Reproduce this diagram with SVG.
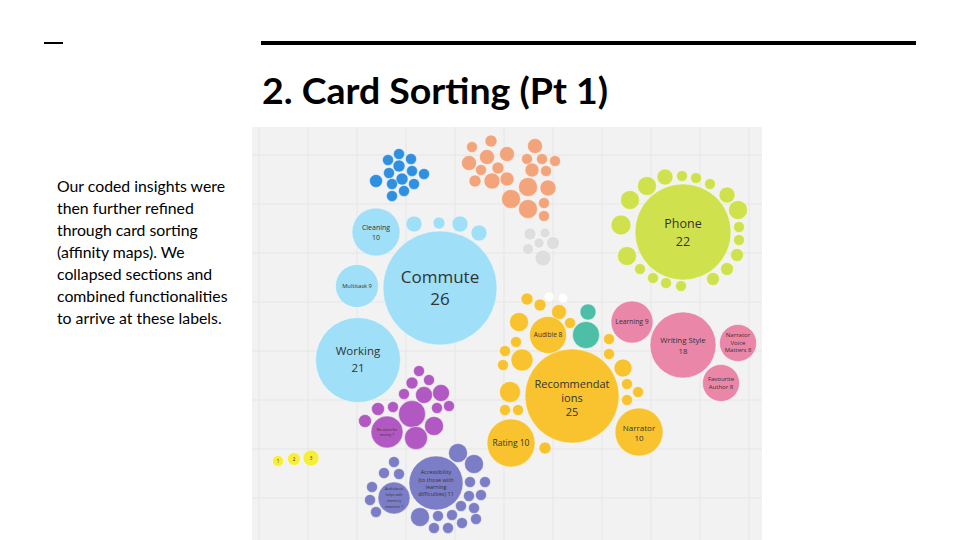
<svg xmlns="http://www.w3.org/2000/svg" width="960" height="540" viewBox="0 0 960 540">
<style>
.bg{fill:#f2f2f2}
.grid{stroke:#e6e6e6;stroke-width:1}
circle{stroke:#ffffff;stroke-opacity:0.55;stroke-width:0.8}
.lb{fill:#9fdff8}
.db{fill:#2f8fe0}
.or{fill:#f3a47b}
.gr{fill:#dedede}
.li{fill:#cfe24d}
.am{fill:#f8c32e}
.wh{fill:#ffffff;stroke:#e8e8e8}
.te{fill:#4dbfa6}
.pk{fill:#ea86a8}
.pu{fill:#b158c3}
.pw{fill:#7b7ec7}
.ye{fill:#f7ee3c}
.t{font-family:"Open Sans","Noto Sans",sans-serif;fill:#333333;text-anchor:middle}
</style>
<rect width="960" height="540" fill="#ffffff"/>
<g id="header">
<rect x="44" y="42" width="19" height="2" fill="#000"/>
<rect x="261" y="41" width="655" height="4" fill="#000"/>
<text x="262" y="104" font-family="Lato,'Open Sans',sans-serif" font-weight="bold" font-size="36" fill="#000" textLength="346" lengthAdjust="spacingAndGlyphs">2. Card Sorting (Pt 1)</text>
</g>
<g id="body-text" font-family="Lato,'Open Sans',sans-serif" font-size="15.8" fill="#000">
<text x="57" y="192">Our coded insights were</text>
<text x="57" y="214">then further refined</text>
<text x="57" y="236">through card sorting</text>
<text x="57" y="258">(affinity maps). We</text>
<text x="57" y="280">collapsed sections and</text>
<text x="57" y="302">combined functionalities</text>
<text x="57" y="324">to arrive at these labels.</text>
</g>
<g id="board">
<rect class="bg" x="252" y="127" width="510" height="413"/>
<g class="grid">
<line x1="259" y1="127" x2="259" y2="540"/><line x1="308" y1="127" x2="308" y2="540"/><line x1="357" y1="127" x2="357" y2="540"/><line x1="406" y1="127" x2="406" y2="540"/><line x1="455" y1="127" x2="455" y2="540"/><line x1="504" y1="127" x2="504" y2="540"/><line x1="553" y1="127" x2="553" y2="540"/><line x1="602" y1="127" x2="602" y2="540"/><line x1="651" y1="127" x2="651" y2="540"/><line x1="700" y1="127" x2="700" y2="540"/><line x1="749" y1="127" x2="749" y2="540"/>
<line x1="252" y1="155" x2="762" y2="155"/><line x1="252" y1="204" x2="762" y2="204"/><line x1="252" y1="253" x2="762" y2="253"/><line x1="252" y1="302" x2="762" y2="302"/><line x1="252" y1="351" x2="762" y2="351"/><line x1="252" y1="400" x2="762" y2="400"/><line x1="252" y1="449" x2="762" y2="449"/><line x1="252" y1="498" x2="762" y2="498"/>
</g>
</g>
<g id="blue-cluster">
<circle class="db" cx="399" cy="154" r="5.5"/><circle class="db" cx="388" cy="160" r="5.5"/><circle class="db" cx="411" cy="159" r="5.5"/><circle class="db" cx="399" cy="166" r="6"/><circle class="db" cx="389" cy="173" r="5.5"/><circle class="db" cx="412" cy="171" r="5.5"/><circle class="db" cx="424" cy="174" r="5.5"/><circle class="db" cx="376" cy="181" r="6.5"/><circle class="db" cx="402" cy="179" r="6"/><circle class="db" cx="392" cy="184" r="5.5"/><circle class="db" cx="414" cy="184" r="5.5"/><circle class="db" cx="404" cy="191" r="5.5"/><circle class="db" cx="392" cy="196" r="5.5"/>
</g>
<g id="orange-cluster">
<circle class="or" cx="491" cy="141" r="6"/><circle class="or" cx="472" cy="147" r="5.5"/><circle class="or" cx="487" cy="157" r="7.5"/><circle class="or" cx="507" cy="154" r="7.5"/><circle class="or" cx="535" cy="146" r="7.5"/><circle class="or" cx="469" cy="163" r="7.5"/><circle class="or" cx="498" cy="168" r="6"/><circle class="or" cx="481" cy="170" r="5.5"/><circle class="or" cx="527" cy="159" r="5.5"/><circle class="or" cx="542" cy="159" r="5.5"/><circle class="or" cx="555" cy="161" r="5.5"/><circle class="or" cx="507" cy="179" r="7"/><circle class="or" cx="492" cy="181" r="8"/><circle class="or" cx="475" cy="181" r="6"/><circle class="or" cx="532" cy="170" r="7"/><circle class="or" cx="546" cy="171" r="5.5"/><circle class="or" cx="528" cy="187" r="9.5"/><circle class="or" cx="548" cy="188" r="8"/><circle class="or" cx="511" cy="199" r="9.5"/><circle class="or" cx="528" cy="209" r="9.5"/><circle class="or" cx="544" cy="203" r="5.5"/><circle class="or" cx="544" cy="216" r="5.5"/>
</g>
<g id="grey-cluster">
<circle class="gr" cx="530" cy="234" r="6"/><circle class="gr" cx="545" cy="233" r="5"/><circle class="gr" cx="539" cy="243" r="5"/><circle class="gr" cx="553" cy="243" r="6.5"/><circle class="gr" cx="528" cy="249" r="5.5"/><circle class="gr" cx="543" cy="258" r="8"/>
</g>
<g id="commute-cluster">
<circle class="lb" cx="414" cy="224" r="8"/><circle class="lb" cx="439" cy="223" r="6"/><circle class="lb" cx="460" cy="224" r="8"/><circle class="lb" cx="479" cy="233" r="8"/>
</g>
<g id="node-cleaning"><circle class="lb" cx="376" cy="232" r="24"/><text class="t" font-size="7" x="376" y="230">Cleaning</text><text class="t" font-size="7" x="376" y="240">10</text></g>
<g id="node-multitask"><circle class="lb" cx="357" cy="286" r="21.5"/><text class="t" font-size="5.8" x="357" y="288">Multitask 9</text></g>
<g id="node-commute"><circle class="lb" cx="440" cy="288" r="57"/><text class="t" font-size="17" x="440" y="283">Commute</text><text class="t" font-size="17" x="440" y="305">26</text></g>
<g id="node-working"><circle class="lb" cx="358" cy="360" r="42.5"/><text class="t" font-size="11.5" x="358" y="355">Working</text><text class="t" font-size="11.5" x="358" y="372">21</text></g>
<g id="phone-cluster">
<circle class="li" cx="665" cy="177" r="8"/><circle class="li" cx="647" cy="186" r="9.5"/><circle class="li" cx="682" cy="176" r="5.5"/><circle class="li" cx="696" cy="178" r="5.5"/><circle class="li" cx="710" cy="184" r="5.5"/><circle class="li" cx="727" cy="195" r="8"/><circle class="li" cx="630" cy="200" r="9.5"/><circle class="li" cx="738" cy="210" r="9.5"/><circle class="li" cx="621" cy="225" r="10"/><circle class="li" cx="739" cy="227" r="5.5"/><circle class="li" cx="739" cy="240" r="5.5"/><circle class="li" cx="627" cy="256" r="9.5"/><circle class="li" cx="737" cy="255" r="6.5"/><circle class="li" cx="727" cy="269" r="6.5"/><circle class="li" cx="640" cy="269" r="5.5"/><circle class="li" cx="653" cy="278" r="5.5"/><circle class="li" cx="666" cy="283" r="5.5"/><circle class="li" cx="681" cy="286" r="5.5"/><circle class="li" cx="713" cy="279" r="6.5"/>
</g>
<g id="node-phone"><circle class="li" cx="683" cy="232" r="48"/><text class="t" font-size="12.5" x="683" y="228">Phone</text><text class="t" font-size="12.5" x="683" y="246">22</text></g>
<g id="recommendation-cluster">
<circle class="am" cx="527" cy="299" r="6"/><circle class="am" cx="540" cy="305" r="6"/><circle class="wh" cx="549" cy="297" r="5"/><circle class="wh" cx="563" cy="298" r="5"/><circle class="am" cx="559" cy="312" r="7.5"/><circle class="am" cx="570" cy="323" r="5.5"/><circle class="am" cx="519" cy="322" r="9.5"/><circle class="am" cx="516" cy="342" r="5.5"/><circle class="am" cx="505" cy="351" r="5.5"/><circle class="am" cx="522" cy="360" r="11"/><circle class="am" cx="503" cy="365" r="5.5"/><circle class="am" cx="609" cy="339" r="5.5"/><circle class="am" cx="609" cy="354" r="5.5"/><circle class="am" cx="623" cy="368" r="9"/><circle class="am" cx="627" cy="384" r="5.5"/><circle class="am" cx="638" cy="392" r="5.5"/><circle class="am" cx="627" cy="400" r="5.5"/><circle class="am" cx="510" cy="392" r="10.5"/><circle class="am" cx="505" cy="410" r="5.5"/><circle class="am" cx="518" cy="410" r="5.5"/><circle class="am" cx="545" cy="448" r="6"/>
<circle class="te" cx="588" cy="312" r="8"/><circle class="te" cx="586" cy="335" r="13.5"/>
</g>
<g id="node-audible"><circle class="am" cx="548" cy="335" r="18.5"/><text class="t" font-size="6.5" x="548" y="337">Audible 8</text></g>
<g id="node-recommendations"><circle class="am" cx="572" cy="396" r="47"/><text class="t" font-size="11" x="572" y="388">Recommendat</text><text class="t" font-size="11" x="572" y="402">ions</text><text class="t" font-size="11" x="572" y="416">25</text></g>
<g id="node-rating"><circle class="am" cx="511" cy="443" r="24"/><text class="t" font-size="8.5" x="511" y="446">Rating 10</text></g>
<g id="node-narrator"><circle class="am" cx="639" cy="432" r="24"/><text class="t" font-size="8" x="639" y="431">Narrator</text><text class="t" font-size="8" x="639" y="441">10</text></g>
<g id="node-learning"><circle class="pk" cx="632" cy="322" r="21"/><text class="t" font-size="6.8" x="632" y="324">Learning 9</text></g>
<g id="node-writing-style"><circle class="pk" cx="683" cy="345" r="33"/><text class="t" font-size="7.8" x="683" y="343">Writing Style</text><text class="t" font-size="7.8" x="683" y="353.5">18</text></g>
<g id="node-narrator-voice"><circle class="pk" cx="738" cy="343" r="18.5"/><text class="t" font-size="6" x="738" y="337">Narrator</text><text class="t" font-size="6" x="738" y="345">Voice</text><text class="t" font-size="6" x="738" y="352">Matters 8</text></g>
<g id="node-favourite-author"><circle class="pk" cx="721" cy="383" r="18.5"/><text class="t" font-size="6" x="721" y="381">Favourite</text><text class="t" font-size="6" x="721" y="389">Author 8</text></g>
<g id="purple-cluster">
<circle class="pu" cx="419" cy="371" r="5.5"/><circle class="pu" cx="412" cy="383" r="6"/><circle class="pu" cx="429" cy="380" r="5.5"/><circle class="pu" cx="424" cy="395" r="8.5"/><circle class="pu" cx="441" cy="393" r="8.5"/><circle class="pu" cx="404" cy="394" r="5.5"/><circle class="pu" cx="378" cy="409" r="6.5"/><circle class="pu" cx="393" cy="407" r="5.5"/><circle class="pu" cx="412" cy="414" r="13.5"/><circle class="pu" cx="437" cy="408" r="5.5"/><circle class="pu" cx="449" cy="406" r="5.5"/><circle class="pu" cx="365" cy="421" r="6.5"/><circle class="pu" cx="434" cy="426" r="9.5"/><circle class="pu" cx="416" cy="438" r="11.5"/>
</g>
<g id="node-no-value"><circle class="pu" cx="387" cy="432" r="16"/><text class="t" font-size="3.6" x="387" y="431">No value for</text><text class="t" font-size="3.6" x="387" y="436">money 7</text></g>
<g id="periwinkle-cluster">
<circle class="pw" cx="458" cy="453" r="9.5"/><circle class="pw" cx="474" cy="464" r="9.5"/><circle class="pw" cx="394" cy="462" r="5.5"/><circle class="pw" cx="384" cy="473" r="5.5"/><circle class="pw" cx="399" cy="474" r="5.5"/><circle class="pw" cx="372" cy="487" r="5.5"/><circle class="pw" cx="370" cy="500" r="5.5"/><circle class="pw" cx="376" cy="512" r="5.5"/><circle class="pw" cx="470" cy="482" r="5.5"/><circle class="pw" cx="485" cy="482" r="5.5"/><circle class="pw" cx="469" cy="496" r="5.5"/><circle class="pw" cx="481" cy="495" r="5.5"/><circle class="pw" cx="461" cy="506" r="5.5"/><circle class="pw" cx="474" cy="508" r="5.5"/><circle class="pw" cx="420" cy="517" r="9.5"/><circle class="pw" cx="438" cy="516" r="5.5"/><circle class="pw" cx="452" cy="515" r="5.5"/><circle class="pw" cx="462" cy="523" r="5.5"/><circle class="pw" cx="476" cy="519" r="5.5"/><circle class="pw" cx="434" cy="528" r="5.5"/><circle class="pw" cx="448" cy="528" r="5.5"/>
</g>
<g id="node-audiobook-memory"><circle class="pw" cx="394" cy="498" r="16"/><text class="t" font-size="3.6" x="394" y="490">Audiobook</text><text class="t" font-size="3.6" x="394" y="496">helps with</text><text class="t" font-size="3.6" x="394" y="502">memory</text><text class="t" font-size="3.6" x="394" y="508">retention 7</text></g>
<g id="node-accessibility"><circle class="pw" cx="436" cy="483" r="27"/><text class="t" font-size="5.5" x="436" y="474">Accessibility</text><text class="t" font-size="5.5" x="436" y="482">(to those with</text><text class="t" font-size="5.5" x="436" y="489">learning</text><text class="t" font-size="5.5" x="436" y="496">difficulties)  11</text></g>
<g id="node-1"><circle class="ye" cx="278" cy="461" r="5.5"/><text class="t" font-size="4.5" x="278" y="462.5">1</text></g>
<g id="node-2"><circle class="ye" cx="294" cy="459" r="6.5"/><text class="t" font-size="4.5" x="294" y="460.5">2</text></g>
<g id="node-3"><circle class="ye" cx="311" cy="458" r="8"/><text class="t" font-size="5" x="311" y="459.5">3</text></g>
</svg>
